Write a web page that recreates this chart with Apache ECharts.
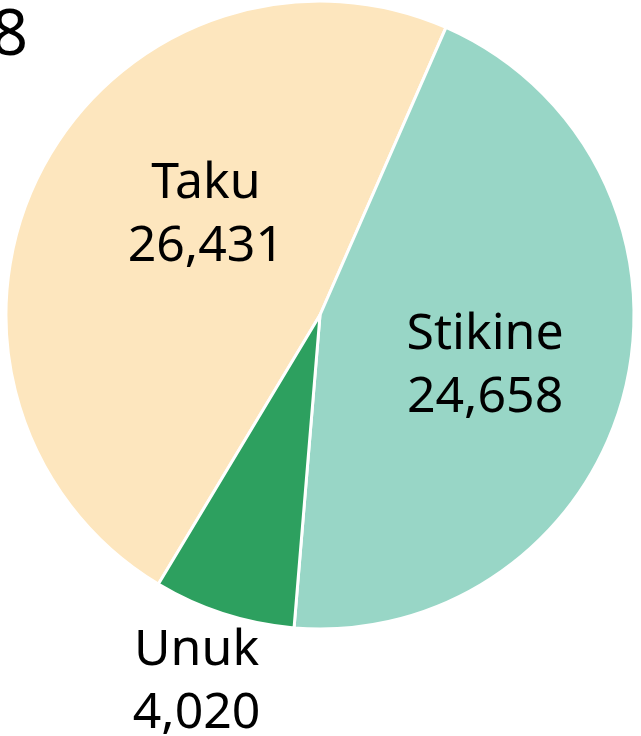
<!DOCTYPE html>
<html><head><meta charset="utf-8">
<script src="https://cdn.jsdelivr.net/npm/echarts@6/dist/echarts.min.js"></script>
<style>html,body{margin:0;padding:0;background:#fff}#c{width:641px;height:736px}</style>
</head><body><div id="c"></div>
<script>
const titleText = '2018';
const categories = ['Taku', 'Stikine', 'Unuk'];
const values = [26431, 24658, 4020];
const colors = ['#FDE6BE', '#98D6C6', '#2DA05F'];
const labelShift = [[28, -26], [10, 12], [0, 0]];

const chart = echarts.init(document.getElementById('c'), null, {renderer: 'canvas'});
const fmt = v => v.toLocaleString('en-US');
chart.setOption({
  animation: false,
  title: {
    text: titleText, right: 613, top: 5, padding: 0,
    textStyle: {fontFamily: 'Noto Sans', fontSize: 64, fontWeight: 'normal', color: '#000'}
  },
  series: [{
    type: 'pie',
    center: [320, 315],
    radius: 314,
    startAngle: 239,
    clockwise: true,
    avoidLabelOverlap: false,
    itemStyle: {borderColor: '#fff', borderWidth: 3},
    label: {
      position: 'inside',
      formatter: p => p.name + '\n' + fmt(p.value),
      fontFamily: 'Noto Sans', fontSize: 50, lineHeight: 63, color: '#000', align: 'center'
    },
    labelLine: {show: false},
    labelLayout: p => {
      const s = labelShift[p.dataIndex];
      return {dx: s[0], dy: s[1], align: 'center'};
    },
    data: categories.map((c, i) => ({
      name: c, value: values[i], itemStyle: {color: colors[i]},
      label: i === 2 ? {position: 'outside'} : undefined,
      labelLine: i === 2 ? {show: false, length: 72, length2: 0} : undefined
    }))
  }]
});
</script></body></html>
